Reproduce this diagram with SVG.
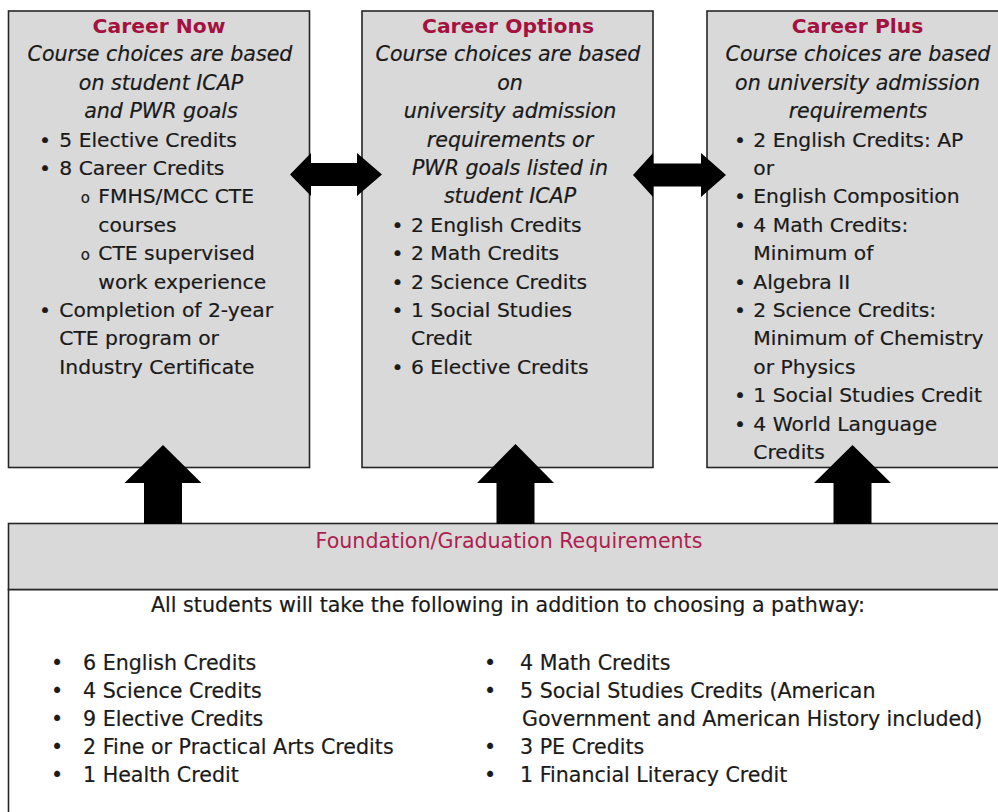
<svg xmlns="http://www.w3.org/2000/svg" width="998" height="812" viewBox="0 0 998 812">
<style>
.box{fill:#d9d9d9;stroke:#262626;stroke-width:1.6}
.t{font-family:"DejaVu Sans",Verdana,sans-serif;font-size:20.3px;fill:#1a1a1a;stroke:#1a1a1a;stroke-width:0.2}
.h{font-weight:bold;fill:#a3123f;stroke:none;text-anchor:middle}
.i{font-style:italic;font-size:20.6px;text-anchor:middle}
.b{text-anchor:middle}
.o{font-size:15px;text-anchor:middle}
.f{fill:#ad1f50;stroke:none;text-anchor:middle}
.g{font-size:20.6px}
.arrow{fill:#000}
</style>
<rect x="0" y="0" width="998" height="812" fill="#fff"/>

<g id="career-now">
<rect class="box" x="8.5" y="11" width="301" height="456.5"/>
<text class="t h" x="159" y="33">Career Now</text>
<text class="t i" x="160" y="61.4">Course choices are based</text>
<text class="t i" x="161" y="89.8">on student ICAP</text>
<text class="t i" x="161" y="118.2">and PWR goals</text>
<text class="t b" x="45" y="146.6">•</text><text class="t" x="59.3" y="146.6">5 Elective Credits</text>
<text class="t b" x="45" y="175">•</text><text class="t" x="59.3" y="175">8 Career Credits</text>
<text class="t o" x="85.3" y="203.4">o</text><text class="t" x="98.3" y="203.4">FMHS/MCC CTE</text>
<text class="t" x="98.3" y="231.8">courses</text>
<text class="t o" x="85.3" y="260.2">o</text><text class="t" x="98.3" y="260.2">CTE supervised</text>
<text class="t" x="98.3" y="288.6">work experience</text>
<text class="t b" x="45" y="317">•</text><text class="t" x="59.3" y="317">Completion of 2-year</text>
<text class="t" x="59.3" y="345.4">CTE program or</text>
<text class="t" x="59.3" y="373.8">Industry Certificate</text>
</g>

<g id="career-options">
<rect class="box" x="362" y="11" width="291" height="456.5"/>
<text class="t h" x="508" y="33">Career Options</text>
<text class="t i" x="508" y="61.4">Course choices are based</text>
<text class="t i" x="510" y="89.8">on</text>
<text class="t i" x="510" y="118.2">university admission</text>
<text class="t i" x="510" y="146.6">requirements or</text>
<text class="t i" x="510" y="175">PWR goals listed in</text>
<text class="t i" x="510" y="203.4">student ICAP</text>
<text class="t b" x="397.5" y="231.8">•</text><text class="t" x="411" y="231.8">2 English Credits</text>
<text class="t b" x="397.5" y="260.2">•</text><text class="t" x="411" y="260.2">2 Math Credits</text>
<text class="t b" x="397.5" y="288.6">•</text><text class="t" x="411" y="288.6">2 Science Credits</text>
<text class="t b" x="397.5" y="317">•</text><text class="t" x="411" y="317">1 Social Studies</text>
<text class="t" x="411" y="345.4">Credit</text>
<text class="t b" x="397.5" y="373.8">•</text><text class="t" x="411" y="373.8">6 Elective Credits</text>
</g>

<g id="career-plus">
<rect class="box" x="707" y="11" width="305" height="456.5"/>
<text class="t h" x="857.5" y="33">Career Plus</text>
<text class="t i" x="858" y="61.4">Course choices are based</text>
<text class="t i" x="857.5" y="89.8">on university admission</text>
<text class="t i" x="858" y="118.2">requirements</text>
<text class="t b" x="740" y="146.6">•</text><text class="t" x="753.3" y="146.6">2 English Credits: AP</text>
<text class="t" x="753.3" y="175">or</text>
<text class="t b" x="740" y="203.4">•</text><text class="t" x="753.3" y="203.4">English Composition</text>
<text class="t b" x="740" y="231.8">•</text><text class="t" x="753.3" y="231.8">4 Math Credits:</text>
<text class="t" x="753.3" y="260.2">Minimum of</text>
<text class="t b" x="740" y="288.6">•</text><text class="t" x="753.3" y="288.6">Algebra II</text>
<text class="t b" x="740" y="317">•</text><text class="t" x="753.3" y="317">2 Science Credits:</text>
<text class="t" x="753.3" y="345.4">Minimum of Chemistry</text>
<text class="t" x="753.3" y="373.8">or Physics</text>
<text class="t b" x="740" y="402.2">•</text><text class="t" x="753.3" y="402.2">1 Social Studies Credit</text>
<text class="t b" x="740" y="430.6">•</text><text class="t" x="753.3" y="430.6">4 World Language</text>
<text class="t" x="753.3" y="459">Credits</text>
</g>

<g id="foundation">
<rect x="8.5" y="589.5" width="1000" height="240" fill="#fff" stroke="#262626" stroke-width="1.6"/>
<rect class="box" x="8.5" y="523.5" width="1000" height="66"/>
<text class="t f g" x="509" y="548">Foundation/Graduation Requirements</text>
<text class="t g" x="151" y="612">All students will take the following in addition to choosing a pathway:</text>
<text class="t b g" x="57" y="670">•</text><text class="t g" x="83" y="670">6 English Credits</text>
<text class="t b g" x="57" y="698">•</text><text class="t g" x="83" y="698">4 Science Credits</text>
<text class="t b g" x="57" y="726">•</text><text class="t g" x="83" y="726">9 Elective Credits</text>
<text class="t b g" x="57" y="754">•</text><text class="t g" x="83" y="754">2 Fine or Practical Arts Credits</text>
<text class="t b g" x="57" y="782">•</text><text class="t g" x="83" y="782">1 Health Credit</text>
<text class="t b g" x="490" y="670">•</text><text class="t g" x="520" y="670">4 Math Credits</text>
<text class="t b g" x="490" y="698">•</text><text class="t g" x="520" y="698">5 Social Studies Credits (American</text>
<text class="t g" x="522" y="726">Government and American History included)</text>
<text class="t b g" x="490" y="754">•</text><text class="t g" x="520" y="754">3 PE Credits</text>
<text class="t b g" x="490" y="782">•</text><text class="t g" x="520" y="782">1 Financial Literacy Credit</text>
</g>

<g id="connectors">
<polygon class="arrow" points="290,174.5 311,153 311,163 357,163 357,153 382,174.5 357,196 357,186 311,186 311,196"/>
<polygon class="arrow" points="633,175 653,153 653,163.5 701,163.5 701,153 726,175 701,197 701,186.5 653,186.5 653,197"/>
<polygon class="arrow" points="163,445 201.5,483 182,483 182,524 144,524 144,483 124.5,483"/>
<polygon class="arrow" points="515.5,444 554,483 534.5,483 534.5,524 496.5,524 496.5,483 477,483"/>
<polygon class="arrow" points="852.5,445 891,483 871.5,483 871.5,524 833.5,524 833.5,483 814,483"/>
</g>
</svg>
